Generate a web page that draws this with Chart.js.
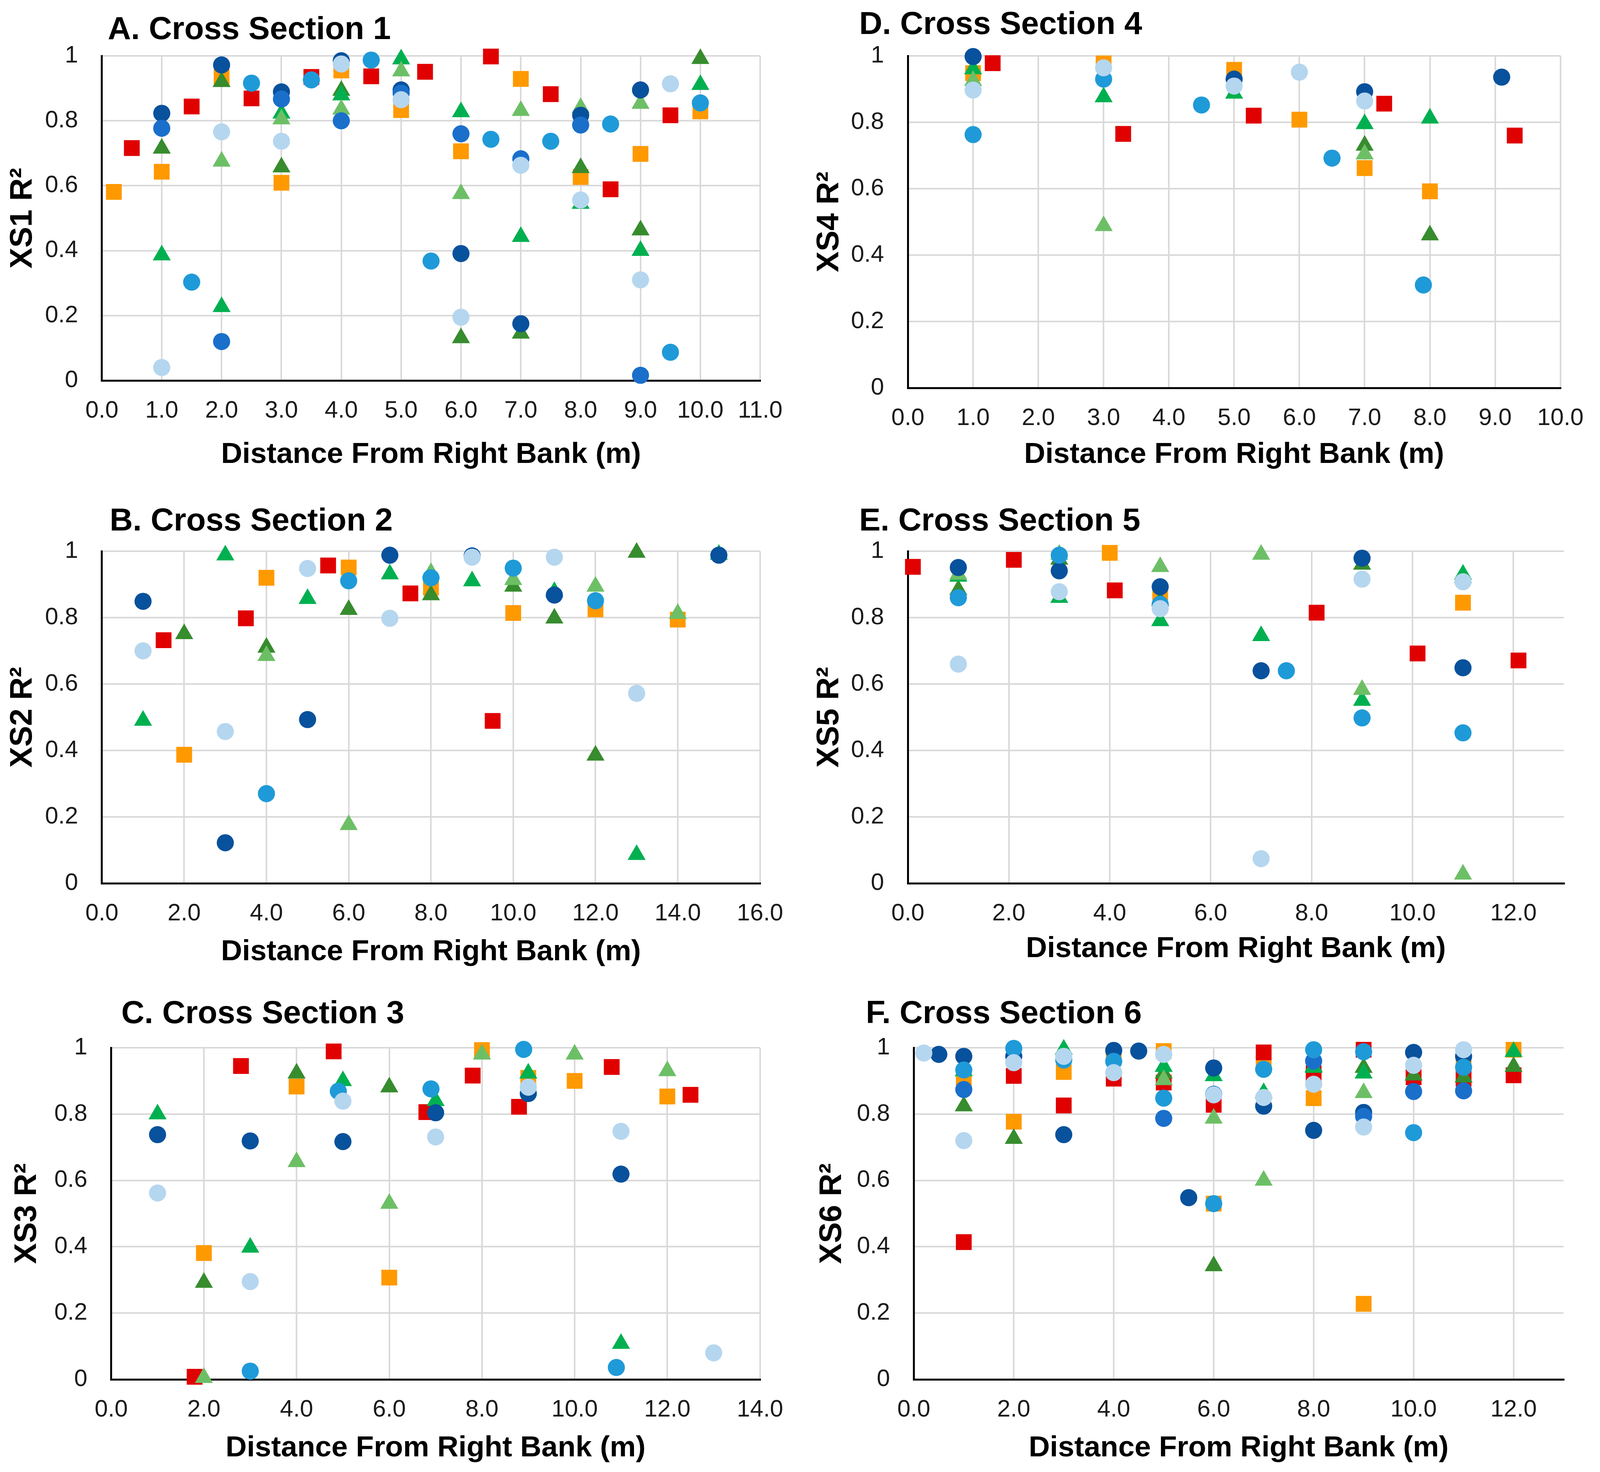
<!DOCTYPE html>
<html>
<head>
<meta charset="utf-8">
<title>Cross Section R2</title>
<script src="https://cdn.jsdelivr.net/npm/chart.js@4.4.1/dist/chart.umd.min.js"></script>
<style>
  html, body { margin: 0; padding: 0; background: #fff; overflow: hidden; }
  #page { position: relative; background: #fff; }
  canvas { position: absolute; }
</style>
</head>
<body>
<div id="page">
  <canvas id="xs1"></canvas>
  <canvas id="xs2"></canvas>
  <canvas id="xs3"></canvas>
  <canvas id="xs4"></canvas>
  <canvas id="xs5"></canvas>
  <canvas id="xs6"></canvas>
</div>
<script>
// values: [distance (m), R2]
const yTickLabels = ['0', '0.2', '0.4', '0.6', '0.8', '1'];

// A. Cross Section 1
const xs1LightBlue = [[1, .04], [2, .766], [3, .737], [4, .975], [5, .865], [6, .195], [7, .663], [8, .556], [9, .31], [9.5, .914]];
const xs1Cyan = [[1.5, .303], [2.5, .916], [3.5, .926], [4.5, .987], [5.5, .368], [6.5, .743], [7.5, .737], [8.5, .79], [9.5, .087], [10, .855]];
const xs1MedBlue = [[1, .777], [2, .12], [3, .867], [4, .80], [5, .885], [6, .76], [7, .683], [8, .787], [9, .016]];
const xs1DarkBlue = [[1, .823], [2, .972], [3, .889], [4, .985], [5, .895], [6, .391], [7, .175], [8, .817], [9, .895]];
const xs1LightGreen = [[2, .675], [3, .805], [4, .835], [5, .953], [6, .575], [7, .831], [8, .84], [9, .853]];
const xs1Green = [[1, .386], [2, .227], [3, .823], [4, .879], [5, .99], [6, .827], [7, .443], [8, .545], [9, .40], [10, .911]];
const xs1DarkGreen = [[1, .715], [2, .92], [3, .657], [4, .893], [6, .131], [7, .145], [8, .655], [9, .463], [10, .991]];
const xs1Red = [[.5, .716], [1.5, .844], [2.5, .869], [3.5, .935], [4.5, .937], [5.4, .951], [6.5, .998], [7.5, .882], [8.5, .589], [9.5, .817]];
const xs1Orange = [[.2, .581], [1, .643], [2, .935], [3, .609], [4, .955], [5, .833], [6, .706], [7, .929], [8, .627], [9, .698], [10, .829]];

// B. Cross Section 2
const xs2LightBlue = [[1, .70], [3, .457], [5, .948], [7, .798], [9, .982], [11, .982], [13, .572]];
const xs2Cyan = [[4, .27], [6, .911], [8, .92], [10, .949], [12, .851]];
const xs2MedBlue = [];
const xs2DarkBlue = [[1, .849], [3, .122], [5, .493], [7, .988], [9, .986], [11, .868], [15, .988]];
const xs2LightGreen = [[4, .685], [6, .176], [8, .935], [10, .914], [12, .894], [14, .812]];
const xs2Green = [[1, .49], [3, .988], [5, .857], [7, .931], [9, .91], [11, .878], [13, .086], [15, .99]];
const xs2DarkGreen = [[2, .751], [4, .71], [6, .824], [8, .868], [10, .894], [11, .798], [12, .385], [13, .996]];
const xs2Red = [[1.5, .732], [3.5, .798], [5.5, .957], [7.5, .873], [9.5, .489]];
const xs2Orange = [[2, .387], [4, .92], [6, .951], [8, .89], [10, .814], [12, .825], [14, .794]];

// C. Cross Section 3
const xs3LightBlue = [[1, .562], [3, .295], [5, .839], [7, .731], [9, .881], [11, .748], [13, .08]];
const xs3Cyan = [[3, .025], [4.9, .869], [6.9, .876], [8.9, .995], [10.9, .036]];
const xs3MedBlue = [];
const xs3DarkBlue = [[1, .738], [3, .719], [5, .717], [7, .804], [9, .862], [11, .619]];
const xs3LightGreen = [[2, .005], [4, .656], [6, .53], [8, .98], [10, .98], [12, .93]];
const xs3Green = [[1, .80], [3, .398], [5, .90], [7, .84], [9, .923], [11, .108]];
const xs3DarkGreen = [[2, .292], [4, .923], [6, .881]];
const xs3Red = [[1.8, .008], [2.8, .945], [4.8, .989], [6.8, .806], [7.8, .916], [8.8, .822], [10.8, .942], [12.5, .858]];
const xs3Orange = [[2, .381], [4, .883], [6, .307], [8, .993], [9, .909], [10, .90], [12, .853]];

// D. Cross Section 4
const xs4LightBlue = [[1, .897], [3, .964], [5, .909], [6, .951], [7, .864]];
const xs4Cyan = [[1, .763], [3, .93], [4.5, .852], [6.5, .692], [7.9, .31]];
const xs4MedBlue = [];
const xs4DarkBlue = [[1, .998], [5, .93], [7, .892], [9.1, .936]];
const xs4LightGreen = [[1, .925], [3, .488], [7, .704]];
const xs4Green = [[1, .96], [3, .876], [5, .887], [7, .795], [8, .812]];
const xs4DarkGreen = [[7, .73], [8, .46]];
const xs4Red = [[1.3, .978], [3.3, .765], [5.3, .82], [7.3, .856], [9.3, .76]];
const xs4Orange = [[1, .948], [3, .977], [5, .958], [6, .808], [7, .662], [8, .592]];

// E. Cross Section 5
const xs5LightBlue = [[1, .66], [3, .878], [5, .827], [7, .074], [9, .916], [11, .908]];
const xs5Cyan = [[1, .86], [3, .988], [5, .84], [7.5, .64], [9, .498], [11, .453]];
const xs5MedBlue = [];
const xs5DarkBlue = [[1, .951], [3, .941], [5, .893], [7, .64], [9, .979], [11, .649]];
const xs5LightGreen = [[1, .93], [3, .99], [5, .953], [7, .99], [9, .583], [11, .027]];
const xs5Green = [[1, .924], [3, .86], [5, .79], [7, .745], [9, .55], [11, .93]];
const xs5DarkGreen = [[1, .884], [3, .975], [5, .85], [9, .96], [11, .92]];
const xs5Red = [[.1, .953], [2.1, .974], [4.1, .882], [8.1, .815], [10.1, .692], [12.1, .671]];
const xs5Orange = [[4, .995], [5, .876], [11, .845]];

// F. Cross Section 6
const xs6LightBlue = [[.2, .984], [1, .72], [2, .955], [3, .974], [4, .925], [5, .98], [6, .858], [7, .85], [8, .89], [9, .761], [10, .947], [11, .994]];
const xs6Cyan = [[1, .933], [2, .998], [3, .963], [4, .959], [5, .848], [6, .53], [7, .935], [8, .994], [9, .988], [10, .744], [11, .941]];
const xs6MedBlue = [[1, .874], [5, .787], [6, .86], [8, .96], [9, .793], [10, .868], [11, .87]];
const xs6DarkBlue = [[.5, .98], [1, .974], [2, .974], [3, .738], [4, .992], [4.5, .99], [5.5, .548], [6, .939], [7, .824], [8, .751], [9, .805], [10, .986], [11, .974]];
const xs6LightGreen = [[5, .903], [6, .787], [7, .60], [9, .864]];
const xs6Green = [[1, .93], [3, .995], [5, .943], [6, .915], [7, .864], [8, .94], [9, .923], [12, .988]];
const xs6DarkGreen = [[1, .824], [2, .726], [5, .923], [6, .342], [8, .943], [9, .94], [10, .917], [11, .911], [12, .943]];
const xs6Red = [[1, .414], [2, .915], [3, .826], [4, .907], [5, .895], [6, .828], [7, .986], [8, .923], [9, .994], [10, .911], [11, .907], [12, .917]];
const xs6Orange = [[1, .90], [2, .777], [3, .927], [4, .978], [5, .99], [6, .53], [7, .955], [8, .848], [9, .228], [10, .923], [11, .958], [12, .994]];

// first entry is drawn on top (Chart.js paints datasets in reverse)
const seriesStyles = [
  { color: '#b5d6ef', shape: 'circle', r: 23 },   // light blue
  { color: '#1f9ad8', shape: 'circle', r: 23 },   // cyan blue
  { color: '#1a6fcb', shape: 'circle', r: 23 },   // medium blue
  { color: '#08519c', shape: 'circle', r: 23 },   // dark blue
  { color: '#6dbf66', shape: 'triangle', r: 28 }, // light green
  { color: '#00b050', shape: 'triangle', r: 28 }, // green
  { color: '#378c2e', shape: 'triangle', r: 28 }, // dark green
  { color: '#e00000', shape: 'rect', r: 30 },     // red
  { color: '#ff9900', shape: 'rect', r: 30 }      // orange
];

// layout measured on a 4302 x 3768 sheet:
// canvas box [left, top, w, h] and plot area [left, top, right, bottom]
const panels = [
  { id: 'xs1', title: 'A. Cross Section 1', yTitle: 'XS1 R²', xMax: 11, xStep: 1,
    box: [0, 0, 2150, 1250], plot: [274, 143, 2044, 974], titleAt: [290, 77], yPad: 12, xPad: 41,
    series: [xs1LightBlue, xs1Cyan, xs1MedBlue, xs1DarkBlue, xs1LightGreen, xs1Green, xs1DarkGreen, xs1Red, xs1Orange] },
  { id: 'xs2', title: 'B. Cross Section 2', yTitle: 'XS2 R²', xMax: 16, xStep: 2,
    box: [0, 1260, 2150, 1250], plot: [274, 1411, 2044, 2261], titleAt: [295, 1335], yPad: 12, xPad: 28,
    series: [xs2LightBlue, xs2Cyan, xs2MedBlue, xs2DarkBlue, xs2LightGreen, xs2Green, xs2DarkGreen, xs2Red, xs2Orange] },
  { id: 'xs3', title: 'C. Cross Section 3', yTitle: 'XS3 R²', xMax: 14, xStep: 2,
    box: [0, 2520, 2150, 1248], plot: [299, 2682, 2044, 3531], titleAt: [326, 2596], yPad: 23, xPad: 16,
    series: [xs3LightBlue, xs3Cyan, xs3MedBlue, xs3DarkBlue, xs3LightGreen, xs3Green, xs3DarkGreen, xs3Red, xs3Orange] },
  { id: 'xs4', title: 'D. Cross Section 4', yTitle: 'XS4 R²', xMax: 10, xStep: 1,
    box: [2150, 0, 2152, 1250], plot: [2441, 143, 4205, 993], titleAt: [2310, 64], yPad: 30, xPad: 41,
    series: [xs4LightBlue, xs4Cyan, xs4MedBlue, xs4DarkBlue, xs4LightGreen, xs4Green, xs4DarkGreen, xs4Red, xs4Orange] },
  { id: 'xs5', title: 'E. Cross Section 5', yTitle: 'XS5 R²', xMax: 13, xStep: 2,
    box: [2150, 1260, 2152, 1250], plot: [2441, 1411, 4205, 2261], titleAt: [2310, 1335], yPad: 30, xPad: 36,
    series: [xs5LightBlue, xs5Cyan, xs5MedBlue, xs5DarkBlue, xs5LightGreen, xs5Green, xs5DarkGreen, xs5Red, xs5Orange] },
  { id: 'xs6', title: 'F. Cross Section 6', yTitle: 'XS6 R²', xMax: 13, xStep: 2,
    box: [2150, 2520, 2152, 1248], plot: [2457, 2682, 4204, 3531], titleAt: [2328, 2596], yPad: 38, xPad: 16,
    series: [xs6LightBlue, xs6Cyan, xs6MedBlue, xs6DarkBlue, xs6LightGreen, xs6Green, xs6DarkGreen, xs6Red, xs6Orange] }
];

// the window may be narrower than the sheet, so stretch the measured layout onto it
const SX = (window.innerWidth || 4302) / 4302;
const SY = (window.innerHeight || 3768) / 3768;
const SF = Math.min(SX, SY);
const page = document.getElementById('page');
page.style.width = Math.round(4302 * SX) + 'px';
page.style.height = Math.round(3768 * SY) + 'px';

const FONT = '"Liberation Sans", Arial, sans-serif';
Chart.defaults.font.family = FONT;

// panel heading drawn at a fixed spot (it does not line up with the plot area)
const panelTitle = {
  id: 'panelTitle',
  afterDraw(chart, args, opts) {
    const ctx = chart.ctx;
    ctx.save();
    ctx.font = 'bold ' + Math.round(86 * SF) + 'px ' + FONT;
    ctx.fillStyle = '#000';
    ctx.textAlign = 'left';
    ctx.textBaseline = 'middle';
    ctx.fillText(opts.text, opts.x, opts.y);
    ctx.restore();
  }
};

panels.forEach(function (p) {
  const el = document.getElementById(p.id);
  const bx = Math.round(p.box[0] * SX), by = Math.round(p.box[1] * SY);
  const bw = Math.round(p.box[2] * SX), bh = Math.round(p.box[3] * SY);
  const pl = p.plot[0] * SX, pt = p.plot[1] * SY, pr = p.plot[2] * SX, pb = p.plot[3] * SY;
  el.width = bw;
  el.height = bh;
  el.style.left = bx + 'px';
  el.style.top = by + 'px';
  el.style.width = bw + 'px';
  el.style.height = bh + 'px';

  const datasets = p.series.map(function (pts, i) {
    const s = seriesStyles[i];
    return {
      data: pts.map(([x, y]) => ({ x: x, y: y })),
      pointStyle: s.shape,
      pointRadius: s.r * SF,
      pointHoverRadius: s.r * SF,
      backgroundColor: s.color,
      borderColor: s.color,
      pointBorderWidth: 0,
      showLine: false,
      clip: false
    };
  });

  new Chart(el.getContext('2d'), {
    type: 'scatter',
    data: { datasets: datasets },
    plugins: [panelTitle],
    options: {
      responsive: false,
      devicePixelRatio: 1,
      animation: false,
      events: [],
      layout: { padding: { top: pt - by, right: bx + bw - pr, left: 0, bottom: 0 } },
      plugins: {
        legend: { display: false },
        tooltip: { enabled: false },
        panelTitle: { text: p.title, x: p.titleAt[0] * SX - bx, y: p.titleAt[1] * SY - by }
      },
      scales: {
        x: {
          type: 'linear',
          min: 0,
          max: p.xMax,
          ticks: {
            stepSize: p.xStep,
            includeBounds: false,
            autoSkip: false,
            maxRotation: 0,
            padding: 42 * SY,
            color: '#1a1a1a',
            font: { size: Math.round(64 * SF) },
            callback: v => v.toFixed(1)
          },
          grid: { color: '#d9d9d9', lineWidth: 4, drawTicks: false },
          border: { color: '#000', width: 5 },
          title: {
            display: true,
            text: 'Distance From Right Bank (m)',
            color: '#000',
            font: { size: Math.round(79 * SF), weight: 'bold' },
            padding: { top: 0, bottom: p.xPad * SY }
          },
          afterFit: s => { s.height = by + bh - pb; }
        },
        y: {
          min: 0,
          max: 1,
          ticks: {
            stepSize: 0.2,
            padding: 64 * SX,
            color: '#1a1a1a',
            font: { size: Math.round(64 * SF) },
            callback: (v, i) => yTickLabels[i]
          },
          grid: { color: '#d9d9d9', lineWidth: 4, drawTicks: false },
          border: { color: '#000', width: 5 },
          title: {
            display: true,
            text: p.yTitle,
            color: '#000',
            font: { size: 80, weight: 'bold' },
            padding: { top: p.yPad * SX, bottom: 0 }
          },
          afterFit: s => { s.width = pl - bx; }
        }
      }
    }
  });
});
</script>
</body>
</html>
